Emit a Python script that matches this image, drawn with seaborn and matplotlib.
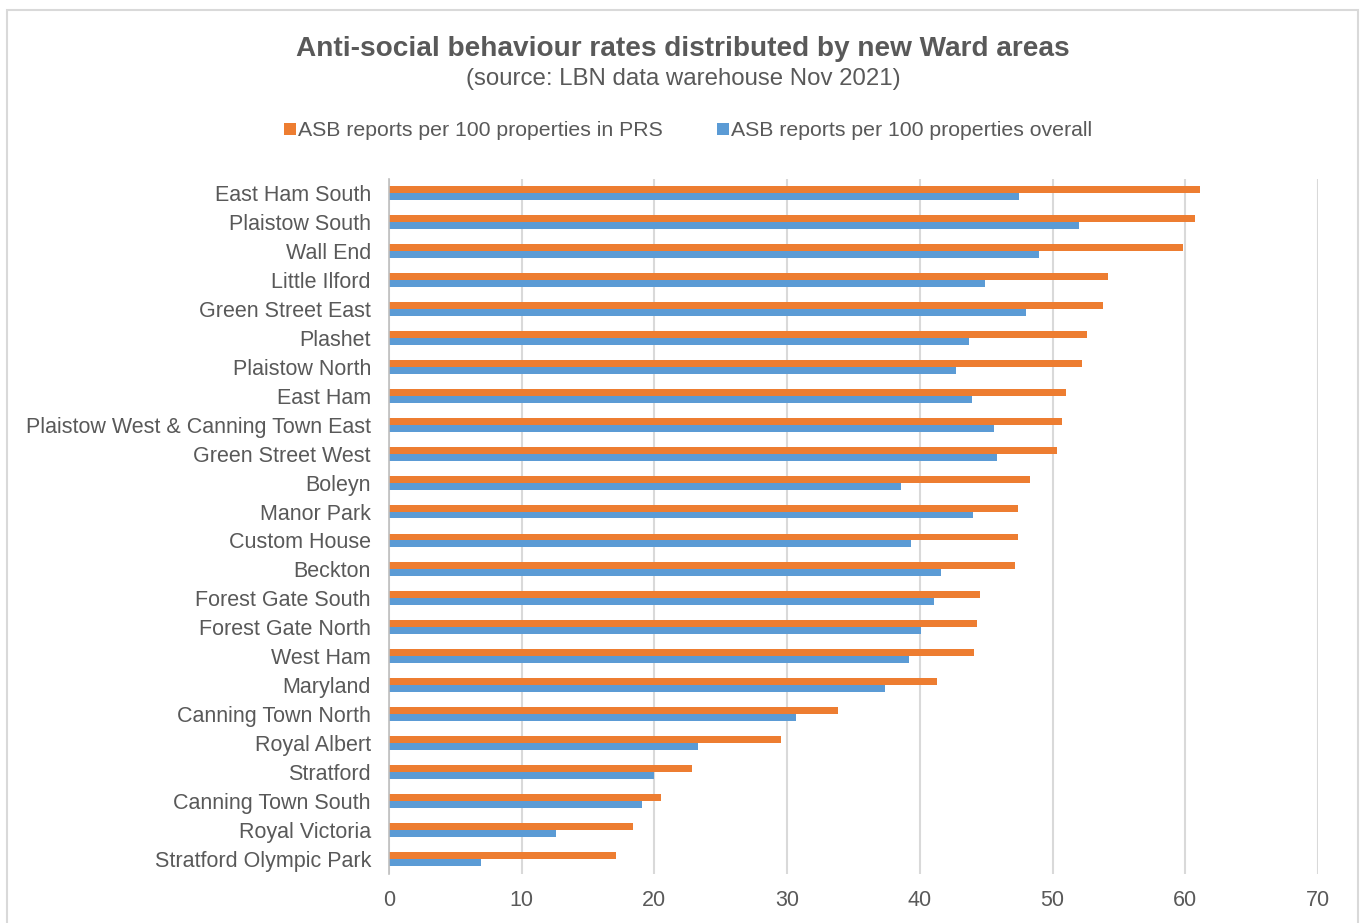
import matplotlib
matplotlib.use("Agg")
import matplotlib.pyplot as plt
import seaborn as sns
import pandas as pd
from matplotlib.lines import Line2D
from matplotlib.patches import Rectangle

# Ward areas, ordered by PRS rate (highest first)
wards = [
    "East Ham South", "Plaistow South", "Wall End", "Little Ilford",
    "Green Street East", "Plashet", "Plaistow North", "East Ham",
    "Plaistow West & Canning Town East", "Green Street West", "Boleyn",
    "Manor Park", "Custom House", "Beckton", "Forest Gate South",
    "Forest Gate North", "West Ham", "Maryland", "Canning Town North",
    "Royal Albert", "Stratford", "Canning Town South", "Royal Victoria",
    "Stratford Olympic Park",
]
prs_rate = [61.1, 60.7, 59.8, 54.2, 53.8, 52.6, 52.2, 51.0, 50.7, 50.3, 48.3,
            47.4, 47.4, 47.2, 44.5, 44.3, 44.1, 41.3, 33.8, 29.5, 22.8, 20.5,
            18.4, 17.1]
overall_rate = [47.5, 52.0, 49.0, 44.9, 48.0, 43.7, 42.7, 43.9, 45.6, 45.8, 38.6,
                44.0, 39.3, 41.6, 41.1, 40.1, 39.2, 37.4, 30.7, 23.3, 20.0, 19.1,
                12.6, 6.9]
series_names = ["ASB reports per 100 properties in PRS",
                "ASB reports per 100 properties overall"]
x_ticks = [0, 10, 20, 30, 40, 50, 60, 70]

title = "Anti-social behaviour rates distributed by new Ward areas"
subtitle = "(source: LBN data warehouse Nov 2021)"

ORANGE = "#ED7D31"
BLUE = "#5B9BD5"
TEXT = "#595959"
GRID = "#D9D9D9"

sns.set_theme(style="white")
plt.rcParams["font.family"] = ["Liberation Sans", "DejaVu Sans"]

n = len(wards)
df = pd.DataFrame({
    "Ward": wards * 2,
    "Rate": prs_rate + overall_rate,
    "Series": [series_names[0]] * n + [series_names[1]] * n,
})

W, H = 1367, 923
fig = plt.figure(figsize=(W / 100, H / 100), dpi=100)

# chart frame
fig.patches.append(Rectangle((7 / W, -0.01), (1358 - 7) / W, 1 - 10 / H + 0.01,
                             transform=fig.transFigure, fill=False,
                             edgecolor=GRID, linewidth=1.5))

ax = fig.add_axes([389 / W, 1 - 873.5 / H, (1318 - 389) / W, (873.5 - 178.5) / H])
sns.barplot(data=df, y="Ward", x="Rate", hue="Series", hue_order=series_names,
            palette=[ORANGE, BLUE], orient="h", width=0.48, saturation=1,
            linewidth=0, legend=False, ax=ax)

ax.set_xlim(0, 70)
ax.set_ylim(n - 0.5, -0.5)
ax.set_xticks(x_ticks)
ax.set_xticklabels([str(t) for t in x_ticks])
ax.set_xlabel("")
ax.set_ylabel("")
ax.xaxis.grid(True, color=GRID, linewidth=1.5)
ax.yaxis.grid(False)
ax.set_axisbelow(True)
for side in ["top", "right", "bottom"]:
    ax.spines[side].set_visible(False)
ax.spines["left"].set_color("#BFBFBF")
ax.spines["left"].set_linewidth(1.2)
ax.tick_params(axis="y", length=0, pad=13, labelsize=15.5, labelcolor=TEXT)
ax.tick_params(axis="x", length=0, pad=12, labelsize=15.5, labelcolor=TEXT)

fig.text(683 / W, 1 - 49 / H, title, ha="center", va="center",
         fontsize=20.2, fontweight="bold", color=TEXT)
fig.text(683 / W, 1 - 79 / H, subtitle, ha="center", va="center",
         fontsize=17.3, color=TEXT)

handles = [Line2D([], [], linestyle="none", marker="s", markersize=8.5,
                  markerfacecolor=c, markeredgewidth=0) for c in (ORANGE, BLUE)]
fig.legend(handles, series_names, loc="center", ncol=2,
           bbox_to_anchor=(688 / W, 1 - 131 / H), frameon=False,
           fontsize=15.3, labelcolor=TEXT, handlelength=0.6,
           handletextpad=0.1, columnspacing=2.5)

fig.savefig("out.png", dpi=100, facecolor="white")
